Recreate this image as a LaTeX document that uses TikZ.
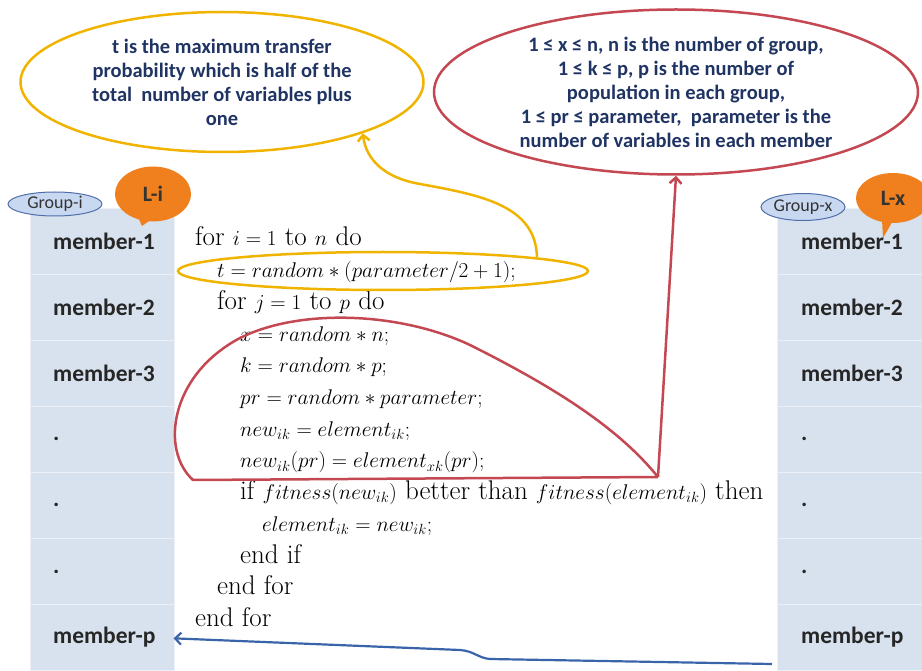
\documentclass[tikz,border=0pt]{standalone}
\usepackage{graphicx}
\usepackage{fontspec}
\newfontfamily\calib{Carlito}
\usetikzlibrary{shapes.geometric, shapes.callouts, arrows.meta, positioning}
\definecolor{notenavy}{RGB}{32,52,100}
\definecolor{ringgold}{RGB}{240,180,0}
\definecolor{ringred}{RGB}{196,72,82}
\definecolor{backblue}{RGB}{58,100,170}
\definecolor{cellgray}{RGB}{216,225,238}
\definecolor{pillblue}{RGB}{200,216,240}
\definecolor{pilledge}{RGB}{80,110,170}
\definecolor{tagorange}{RGB}{240,128,30}
\newcommand\codemath[1]{\scalebox{1.025}{\fontsize{20.74}{26}\selectfont$#1$}}
\tikzset{
  codeline/.style={anchor=base west, inner sep=0pt, font=\fontsize{27}{31}\selectfont},
  memlabel/.style={anchor=west, inner sep=0pt, text=black!85, font=\calib\bfseries\fontsize{23.5}{27}\selectfont},
  notering/.style={ellipse, inner sep=0pt, line width=2.5pt, align=center, text=notenavy,
    font=\calib\bfseries\fontsize{20.5}{24}\selectfont},
  pill/.style={ellipse, draw=pilledge, fill=pillblue, line width=1pt, inner sep=0pt,
    text=black!80, font=\calib\fontsize{18}{20}\selectfont},
  tag/.style={ellipse callout, fill=tagorange, inner sep=0pt, text=black!80,
    font=\calib\bfseries\fontsize{22}{24}\selectfont},
  conn/.style={line width=2.5pt, -{Straight Barb[length=6pt,width=12pt]}}
}

\begin{document}
\begin{tikzpicture}[x=1pt, y=-1pt]
  \useasboundingbox (0,0) rectangle (922,671);
  % the two member columns
  \foreach \r in {0,...,6} {
    \draw[white!55!cellgray, line width=0.5pt, fill=cellgray] (30,208+66.1*\r) rectangle (174,274.1+66.1*\r);
    \draw[white!55!cellgray, line width=0.5pt, fill=cellgray] (777,208+66.1*\r) rectangle (922,274.1+66.1*\r);
  }
  \foreach \lab [count=\r] in {member-1,member-2,member-3,.,.,.,member-p} {
    \node[memlabel] (li\r) at (53,174.9+66.1*\r) {\lab};
    \node[memlabel] (lx\r) at (801,174.9+66.1*\r) {\lab};
  }
  \node[pill, minimum width=94pt, minimum height=24pt] (grpi) at (55,204) {Group-i};
  \node[pill, minimum width=84pt, minimum height=27pt] (grpx) at (803,207) {Group-x};
  \node[tag, minimum width=76pt, minimum height=55pt, callout absolute pointer={(142,226)}] (tagi) at (153,194) {L-i};
  \node[tag, minimum width=74pt, minimum height=50pt, callout absolute pointer={(883,238)}] (tagx) at (893,198) {L-x};

  % pseudo code
  \node[codeline] (c0) at (195,246) {for \codemath{i = 1} to \codemath{n} do};
  \node[codeline] (c1) at (217,277.7) {\codemath{t = random \ast (parameter/2+1);}};
  \node[codeline] (c2) at (217,309.4) {for \codemath{j = 1} to \codemath{p} do};
  \node[codeline] (c3) at (240,341.1) {\codemath{x = random \ast n;}};
  \node[codeline] (c4) at (240,372.8) {\codemath{k = random \ast p;}};
  \node[codeline] (c5) at (240,404.5) {\codemath{pr = random \ast parameter;}};
  \node[codeline] (c6) at (240,436.2) {\codemath{new_{ik} = element_{ik};}};
  \node[codeline] (c7) at (240,467.9) {\codemath{new_{ik}(pr) = element_{xk}(pr);}};
  \node[codeline] (c8) at (240,499.6) {if \codemath{fitness(new_{ik})} better than \codemath{fitness(element_{ik})} then};
  \node[codeline] (c9) at (262,531.3) {\codemath{element_{ik} = new_{ik};}};
  \node[codeline] (c10) at (240,563) {end if};
  \node[codeline] (c11) at (217,594.7) {end for};
  \node[codeline] (c12) at (195,626.4) {end for};

  % notes
  \node[notering, draw=ringgold, minimum width=403pt, minimum height=140pt] (tnote) at (222,82)
    {t is the maximum transfer\\probability which is half of the\\total\ \ number of variables plus\\one};
  \node[notering, draw=ringred, minimum width=484pt, minimum height=165pt] (pnote) at (676,92)
    {1 ≤ x ≤ n, n is the number of group,\\1 ≤ k ≤ p, p is the number of\\population in each group,\\1 ≤ pr ≤ parameter,\ \ parameter is the\\number of variables in each member};
  \node[ellipse, draw=ringgold, line width=2.5pt, minimum width=410pt, minimum height=38pt] (tring) at (383,271) {};

  % red loop round the transfer lines
  \coordinate (loopend) at (658,477);
  \draw[ringred, line width=2.5pt, line join=round] (loopend) -- (193,480)
    .. controls (160,450) and (170,375) .. (240,338)
    .. controls (300,308) and (400,312) .. (470,345)
    .. controls (560,390) and (620,430) .. (loopend);

  % connectors
  \draw[conn, ringgold] (tring.5) .. controls (536,205) and (480,195) .. (420,184)
    .. controls (385,178) and (366,160) .. (tnote.-20);
  \draw[conn, ringred] (loopend) -- (pnote.south);
  \coordinate (bstart) at (772,664);
  \draw[conn, backblue, line width=2.2pt, shorten >=18pt] (bstart) -- (490,659)
    .. controls (478,658) and (474,651) .. (460,650) -- (li7.east);
\end{tikzpicture}
\end{document}
